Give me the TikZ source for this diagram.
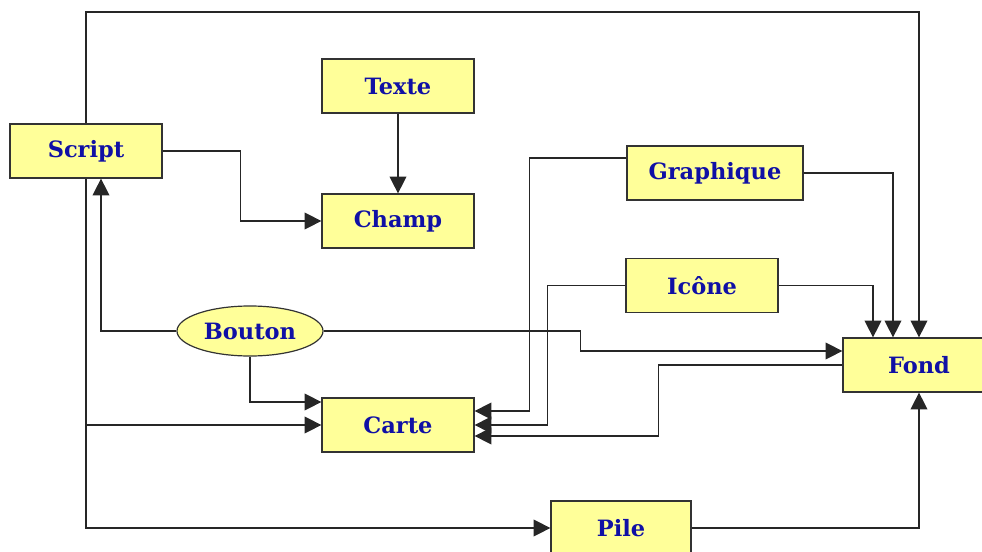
\documentclass[tikz,border=0pt]{standalone}
\usepackage{fontspec}
\setmainfont{DejaVu Serif}
\usetikzlibrary{arrows.meta,shapes.geometric,calc}
\definecolor{boxfill}{RGB}{255,255,153}
\definecolor{boxtext}{RGB}{16,16,165}
\begin{document}
\begin{tikzpicture}[x=0.025cm,y=-0.025cm,
  box/.style={draw=black!80,line width=0.85pt,fill=boxfill,text=boxtext,
    font=\bfseries\fontsize{16}{19}\selectfont,
    minimum width=3.8cm,minimum height=1.35cm,inner sep=0pt},
  oval/.style={box,ellipse,minimum width=3.65cm,minimum height=1.25cm},
  arr/.style={line width=0.85pt,draw=black!85,-{Triangle[length=0.42cm,width=0.42cm]}}]
\useasboundingbox (0,0) rectangle (982,552);
% nodes
\node[box] (script) at (86,151) {Script};
\node[box] (texte) at (398,86) {Texte};
\node[box] (champ) at (398,221) {Champ};
\node[box,minimum width=4.4cm] (graph) at (715,173) {Graphique};
\node[box,minimum height=1.33cm] (icone) at (702,285.5) {Icône};
\node[oval] (bouton) at (250,331) {Bouton};
\node[box] (carte) at (398,425) {Carte};
\node[box] (fond) at (919,365) {Fond};
\node[box,minimum width=3.5cm] (pile) at (621,528) {Pile};
\coordinate (top) at (0,12);
% connectors
\draw[arr] (script.north) |- (top -| fond.north) -- (fond.north);
\draw[arr] (script.east) -- ++(78,0) |- (champ.west);
\draw[arr] (texte) -- (champ);
\draw[arr] (bouton.west) -| ($(script.south)+(15,0)$);
\draw[arr] (script.south) |- (pile.west);
\draw[arr] (script.south |- carte.west) -- (carte.west);
\draw[arr] (bouton.south) |- ($(carte.west)+(0,-23)$);
\draw[arr] (bouton.east) -- ++(257,0) |- ($(fond.west)+(0,-14)$);
\draw[arr] ($(graph.west)+(0,-15)$) -- ++(-97,0) |- ($(carte.east)+(0,-14)$);
\draw[arr] (icone.west) -- ++(-78,0) |- (carte.east);
\draw[arr] (fond.west) -- ++(-184,0) |- ($(carte.east)+(0,11)$);
\draw[arr] (graph.east) -| ($(fond.north)+(-26,0)$);
\draw[arr] (icone.east) -| ($(fond.north)+(-46,0)$);
\draw[arr] (pile.east) -| (fond.south);
\end{tikzpicture}
\end{document}
